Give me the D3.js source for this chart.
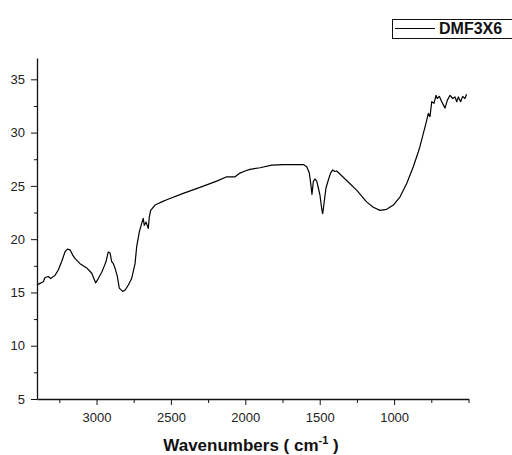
<!DOCTYPE html>
<html>
<head>
<meta charset="utf-8">
<script src="https://cdn.jsdelivr.net/npm/d3@7"></script>
<style>
  body { margin: 0; background: #fff; }
  svg { display: block; font-family: "Liberation Sans", Arial, sans-serif; }
</style>
</head>
<body>
<svg id="chart" width="512" height="455"></svg>
<script>
// spectrum: wavenumber (cm-1) and value
const wavenumbers = [3400, 3380, 3358, 3346, 3324, 3308, 3279, 3257, 3234, 3212, 3196, 3178, 3160, 3145, 3111, 3066, 3032, 3006,
  2988, 2965, 2950, 2936, 2921, 2909, 2898, 2887, 2876, 2860, 2847, 2824, 2809, 2786, 2764, 2741, 2730, 2712, 2696, 2686,
  2679, 2667, 2652, 2645, 2636, 2607, 2585, 2562, 2528, 2417, 2305, 2192, 2125, 2069, 2036, 2002, 1969, 1901, 1823, 1745,
  1610, 1587, 1570, 1560, 1552, 1543, 1532, 1520, 1509, 1498, 1487, 1480, 1471, 1458, 1443, 1427, 1413, 1398, 1387, 1375,
  1319, 1252, 1185, 1140, 1095, 1050, 1005, 960, 916, 871, 837, 826, 804, 786, 770, 759, 747, 732, 718, 710, 696, 680,
  669, 658, 642, 624, 606, 591, 579, 568, 553, 539, 524, 513];
const values = [15.7, 15.85, 16.0, 16.4, 16.5, 16.3, 16.6, 17.1, 17.9, 18.8, 19.07, 19.0, 18.5, 18.2, 17.7, 17.3, 16.8, 15.9,
  16.3, 16.9, 17.4, 17.9, 18.8, 18.7, 17.9, 17.7, 17.3, 16.5, 15.4, 15.1, 15.2, 15.7, 16.3, 17.7, 19.3, 20.7, 21.5, 21.95,
  21.3, 21.6, 21.0, 22.1, 22.7, 23.2, 23.35, 23.5, 23.7, 24.3, 24.86, 25.45, 25.85, 25.85, 26.2, 26.4, 26.55, 26.7, 26.95, 27.0,
  27.0, 26.8, 26.2, 25.2, 24.2, 25.4, 25.65, 25.45, 24.8, 24.1, 22.9, 22.4, 23.35, 24.8, 25.5, 26.2, 26.5, 26.35, 26.4, 26.25,
  25.5, 24.6, 23.5, 23.0, 22.7, 22.8, 23.2, 23.97, 25.2, 26.8, 28.2, 28.7, 29.9, 30.86, 31.8, 31.5, 32.9, 32.75, 33.5, 33.2, 33.4, 32.9,
  32.6, 32.3, 33.05, 33.5, 33.2, 33.35, 32.9, 33.35, 32.9, 33.4, 33.2, 33.6];
const xTicks = [3000, 2500, 2000, 1500, 1000];
const yTicks = [5, 10, 15, 20, 25, 30, 35];
const seriesName = "DMF3X6";

const svg = d3.select("#chart");
const x = d3.scaleLinear().domain([3400, 500]).range([37, 468.5]);
const y = d3.scaleLinear().domain([5, 37]).range([399, 58]);

const data = wavenumbers.map((w, i) => ({w: w, v: values[i]}));

// minor ticks
const xMinor = d3.range(500, 3401, 250).filter(t => !xTicks.includes(t));
const yMinor = d3.range(7.5, 37, 5);

svg.append("g").attr("transform", "translate(0,399)")
  .call(d3.axisBottom(x).tickValues(xMinor).tickSize(4).tickFormat(""))
  .call(g => g.select(".domain").remove());
svg.append("g").attr("transform", "translate(37,0)")
  .call(d3.axisLeft(y).tickValues(yMinor).tickSize(3).tickFormat(""))
  .call(g => g.select(".domain").remove());

const xAxis = svg.append("g").attr("transform", "translate(0,399)")
  .call(d3.axisBottom(x).tickValues(xTicks).tickSize(6).tickPadding(7.5)
    .tickSizeOuter(0).tickFormat(d3.format("d")));
xAxis.selectAll("text").attr("font-size", "13px").attr("fill", "#222");

const yAxis = svg.append("g").attr("transform", "translate(37,0)")
  .call(d3.axisLeft(y).tickValues(yTicks).tickSize(6).tickPadding(6)
    .tickSizeOuter(0).tickFormat(d3.format("d")));
yAxis.selectAll("text").attr("font-size", "13px").attr("fill", "#222");

svg.selectAll(".domain").attr("stroke", "#111").attr("stroke-width", 1.3);
svg.selectAll(".tick line").attr("stroke", "#111");

// spectrum
svg.append("path")
  .datum(data)
  .attr("fill", "none")
  .attr("stroke", "#000")
  .attr("stroke-width", 1.2)
  .attr("stroke-linejoin", "round")
  .attr("d", d3.line().x(d => x(d.w)).y(d => y(d.v)));

// x title
const title = svg.append("text")
  .attr("x", 251)
  .attr("y", 451)
  .attr("text-anchor", "middle")
  .attr("font-size", "17px")
  .attr("font-weight", "bold")
  .attr("fill", "#111");
title.append("tspan").text("Wavenumbers ( cm");
title.append("tspan").attr("font-size", "11px").attr("dy", -7).text("-1");
title.append("tspan").attr("dy", 7).text(" )");

// legend
const legend = svg.append("g");
legend.append("rect")
  .attr("x", 392.5).attr("y", 19.5)
  .attr("width", 130).attr("height", 19)
  .attr("fill", "#fff").attr("stroke", "#111").attr("stroke-width", 1);
legend.append("line")
  .attr("x1", 395).attr("x2", 435)
  .attr("y1", 28.5).attr("y2", 28.5)
  .attr("stroke", "#000").attr("stroke-width", 1.2);
legend.append("text")
  .attr("x", 439).attr("y", 34)
  .attr("font-size", "16px").attr("font-weight", "bold")
  .attr("fill", "#111")
  .text(seriesName);
</script>
</body>
</html>
